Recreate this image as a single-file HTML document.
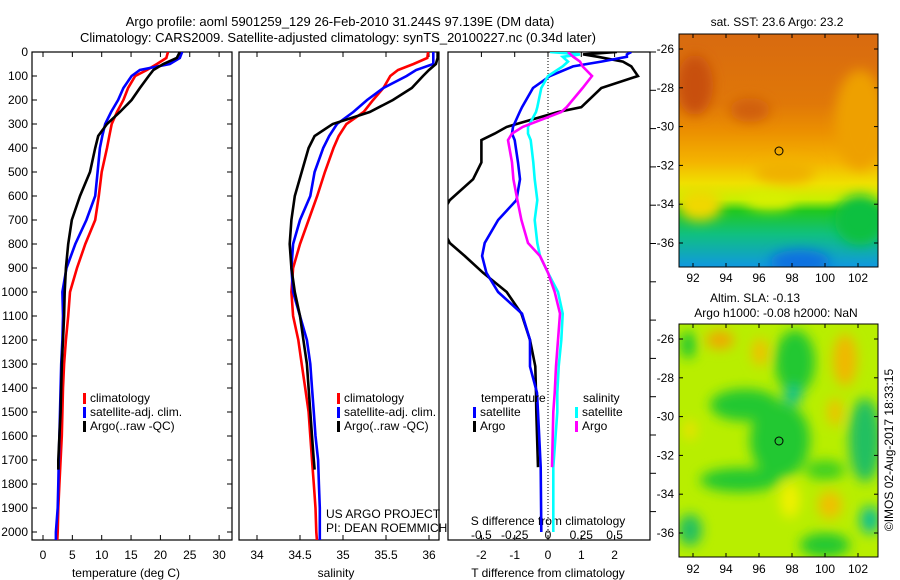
<!DOCTYPE html>
<html><head><meta charset="utf-8"><style>
body{margin:0;background:#fff;}
svg{display:block;font-family:"Liberation Sans",sans-serif;}
text{font-size:12px;fill:#000;}
</style></head><body>
<svg id="c" width="900" height="580" viewBox="0 0 900 580" xmlns="http://www.w3.org/2000/svg">
<defs>
<linearGradient id="sstg" x1="0" y1="0" x2="0" y2="1">
<stop offset="0" stop-color="#d86a10"/><stop offset="0.3" stop-color="#e07808"/><stop offset="0.42" stop-color="#ec9000"/>
<stop offset="0.55" stop-color="#f4b400"/><stop offset="0.64" stop-color="#f0e000"/><stop offset="0.71" stop-color="#c8f000"/>
<stop offset="0.76" stop-color="#20c820"/><stop offset="0.86" stop-color="#10c080"/><stop offset="1" stop-color="#1098e0"/></linearGradient>
<filter id="bl" x="-20%" y="-20%" width="140%" height="140%"><feGaussianBlur stdDeviation="6"/></filter>
<clipPath id="m1c"><rect x="679" y="34" width="199" height="233"/></clipPath>
<clipPath id="m2c"><rect x="679" y="324" width="199" height="233"/></clipPath>
<clipPath id="p1c"><rect x="32" y="52" width="200" height="488"/></clipPath>
<clipPath id="p2c"><rect x="239" y="52" width="200" height="488"/></clipPath>
<clipPath id="p3c"><rect x="448" y="52" width="202" height="488"/></clipPath>
</defs>
<text x="340" y="26" text-anchor="middle" style="font-size:13px">Argo profile: aoml 5901259_129 26-Feb-2010 31.244S 97.139E (DM data)</text>
<text x="338" y="42" text-anchor="middle" style="font-size:13px">Climatology: CARS2009. Satellite-adjusted climatology: synTS_20100227.nc (0.34d later)</text>

<g clip-path="url(#m1c)">
<rect x="679" y="34" width="199" height="233" fill="url(#sstg)"/>
<g filter="url(#bl)">
<ellipse cx="695" cy="85" rx="18" ry="30" fill="#c85010"/>
<ellipse cx="750" cy="110" rx="20" ry="12" fill="#d05e10"/>
<ellipse cx="860" cy="120" rx="25" ry="50" fill="#eea000"/>
<ellipse cx="700" cy="205" rx="22" ry="16" fill="#f0d800"/>
<ellipse cx="770" cy="200" rx="25" ry="10" fill="#d8f000"/>
<ellipse cx="785" cy="172" rx="30" ry="12" fill="#f0b000"/>
<ellipse cx="860" cy="220" rx="25" ry="25" fill="#10c040"/>
<ellipse cx="800" cy="262" rx="30" ry="12" fill="#1070e0"/>
</g>
</g>
<rect x="679" y="34" width="199" height="233" fill="none" stroke="#000"/>
<circle cx="779" cy="151" r="4" fill="none" stroke="#000"/>
<text x="777" y="26" text-anchor="middle">sat. SST: 23.6 Argo: 23.2</text>

<g clip-path="url(#m2c)">
<rect x="679" y="324" width="199" height="233" fill="#b8ee00"/>
<g filter="url(#bl)">
<ellipse cx="720" cy="340" rx="14" ry="9" fill="#f0a800"/>
<ellipse cx="795" cy="362" rx="20" ry="32" fill="#20c830"/>
<ellipse cx="793" cy="395" rx="9" ry="9" fill="#10c090"/>
<ellipse cx="760" cy="352" rx="8" ry="14" fill="#f0c000"/>
<ellipse cx="845" cy="360" rx="12" ry="26" fill="#f0b800"/>
<ellipse cx="688" cy="345" rx="8" ry="14" fill="#20c830"/>
<ellipse cx="745" cy="405" rx="35" ry="16" fill="#20c830"/>
<ellipse cx="780" cy="440" rx="30" ry="38" fill="#20c830"/>
<ellipse cx="865" cy="440" rx="16" ry="42" fill="#20c060"/>
<ellipse cx="835" cy="412" rx="7" ry="14" fill="#f0c000"/>
<ellipse cx="690" cy="430" rx="6" ry="10" fill="#f0e000"/>
<ellipse cx="740" cy="480" rx="40" ry="12" fill="#20c830"/>
<ellipse cx="825" cy="470" rx="20" ry="10" fill="#40d020"/>
<ellipse cx="690" cy="530" rx="12" ry="16" fill="#20c060"/>
<ellipse cx="830" cy="505" rx="12" ry="14" fill="#f0c000"/>
<ellipse cx="870" cy="520" rx="10" ry="14" fill="#10c090"/>
<ellipse cx="825" cy="545" rx="25" ry="12" fill="#20c830"/>
<ellipse cx="790" cy="500" rx="10" ry="18" fill="#f0f000"/>
</g>
</g>
<rect x="679" y="324" width="199" height="233" fill="none" stroke="#000"/>
<circle cx="779" cy="441" r="4" fill="none" stroke="#000"/>
<text x="755" y="302" text-anchor="middle">Altim. SLA: -0.13</text>
<text x="776" y="317" text-anchor="middle">Argo h1000: -0.08 h2000: NaN</text>
<text transform="translate(893,450) rotate(-90)" text-anchor="middle">©IMOS 02-Aug-2017 18:33:15</text>
<g id="axes"></g>
</svg>
<script>
const depths=[0,25,50,75,100,150,200,250,300,350,400,500,600,700,800,900,1000,1100,1200,1300,1400,1500,1600,1700,1800,1900,2000,2050];
const tClim=[21.3,21.0,19.4,17.7,15.7,14.5,13.7,12.6,11.7,11.3,10.9,10.0,9.5,8.9,7.2,5.8,4.6,4.3,3.9,3.6,3.4,3.3,3.2,3.0,2.8,2.6,2.5,2.4];
const tSat=[23.7,23.3,21.6,16.5,15.1,13.7,12.8,11.6,10.6,10.1,9.7,9.3,8.9,7.4,5.5,4.0,3.3,3.4,3.3,3.1,3.0,2.9,2.8,2.7,2.6,2.5,2.2,2.2];
const argoDepths=[0,25,50,75,100,150,200,250,300,350,400,500,600,700,800,900,1000,1100,1200,1300,1400,1500,1600,1700,1740];
const tArgo=[23.3,22.8,20.5,18.8,18.0,16.5,15.1,13.1,10.9,9.4,8.9,8.0,6.3,4.9,4.3,3.9,3.7,3.6,3.4,3.2,3.1,3.0,2.8,2.6,2.6];
const sClim=[35.99,35.98,35.82,35.64,35.55,35.47,35.35,35.24,35.04,34.95,34.89,34.79,34.70,34.60,34.50,34.42,34.40,34.42,34.48,34.52,34.56,34.60,34.62,34.64,34.66,34.68,34.69,34.70];
const sSat=[36.05,36.05,36.05,35.85,35.74,35.47,35.28,35.12,34.93,34.84,34.77,34.67,34.62,34.50,34.42,34.40,34.42,34.50,34.58,34.62,34.64,34.66,34.68,34.71,34.72,34.73,34.73,34.73];
const sArgo=[36.10,36.10,36.08,36.0,35.93,35.80,35.58,35.31,34.88,34.67,34.60,34.52,34.44,34.40,34.38,34.40,34.44,34.50,34.54,34.58,34.60,34.62,34.64,34.66,34.67];
const dDepths=[0,10,20,40,60,100,150,230,250,312,340,367,460,530,617,700,796,850,920,1000,1090,1200,1310,1420,1500,1730,2000];
const dTArgo=[2.07,1.05,1.5,2.25,2.5,2.7,1.6,1.0,0.3,-1.24,-1.6,-2.0,-2.0,-2.25,-2.95,-3.3,-2.95,-2.5,-1.95,-1.24,-0.8,-0.54,-0.38,-0.36,-0.35,-0.3,null];
const dTSat=[2.5,2.37,2.37,1.6,0.75,0.06,-0.45,-0.78,-0.85,-1.05,-1.08,-1.0,-0.9,-0.84,-0.95,-1.5,-1.9,-1.98,-1.85,-1.5,-0.78,-0.54,-0.54,-0.33,-0.3,-0.22,-0.2];
const dSSat=[0.015,0.24,0.11,0.15,0.11,0.0,-0.05,-0.08,-0.09,-0.15,-0.15,-0.13,-0.11,-0.1,-0.08,-0.1,-0.08,-0.06,0.0,0.075,0.11,0.1,0.08,0.07,0.07,0.04,0.04];
const dSArgo=[0.15,0.17,0.19,0.24,0.26,0.33,0.26,0.14,0.1,-0.19,-0.27,-0.3,-0.27,-0.26,-0.23,-0.2,-0.15,-0.06,0.0,0.05,0.09,0.075,0.06,0.05,0.04,0.03,null];
const depthTicks=[0,100,200,300,400,500,600,700,800,900,1000,1100,1200,1300,1400,1500,1600,1700,1800,1900,2000];
const tTicks=[0,5,10,15,20,25,30];
const sTicks=[34,34.5,35,35.5,36];
const dTTicks=[-2,-1,0,1,2];
const dSTicks=[-0.5,-0.25,0,0.25,0.5];
const lonTicks=[92,94,96,98,100,102];
const latTicks=[-26,-28,-30,-32,-34,-36];

const NS='http://www.w3.org/2000/svg';
const root=document.getElementById('axes');
function mk(tag,attrs,parent){const e=document.createElementNS(NS,tag);for(const k in attrs)e.setAttribute(k,attrs[k]);(parent||root).appendChild(e);return e;}
const yD=d=>52+0.24*d;
const xT=t=>43+5.87*t;
const xS=s=>257+86*(s-34);
const xDT=d=>548+33.3*d;
const xDS=d=>548+133.2*d;
const xLon=l=>693+16.5*(l-92);
const yLat1=a=>49+19.4*(-26-a);
const yLat2=a=>339+19.4*(-26-a);

function line(ds,vs,fx,color,clip,name){
  let p='',pen=false;
  for(let i=0;i<ds.length;i++){if(vs[i]===null){pen=false;continue;}p+=(pen?'L':'M')+fx(vs[i]).toFixed(1)+','+yD(ds[i]).toFixed(1);pen=true;}
  const e=mk('path',{d:p,fill:'none',stroke:color,'stroke-width':2.6,'clip-path':'url(#'+clip+')'});
  
  
}
function frame(x,w,name){const e=mk('rect',{x:x,y:52,width:w,height:488,fill:'none',stroke:'#000','stroke-width':1.2});
  
  }
function txt(x,y,s,anchor,name){const e=mk('text',{x:x,y:y,'text-anchor':anchor||'start'});e.textContent=s;
  
  return e;}

frame(32,200,'temperature-panel-frame');
depthTicks.forEach(d=>{const y=yD(d);mk('line',{x1:32,y1:y,x2:37,y2:y,stroke:'#000'});mk('line',{x1:227,y1:y,x2:232,y2:y,stroke:'#000'});txt(28,y+4,String(d),'end','depth-tick-label');});
tTicks.forEach(t=>{const x=xT(t);mk('line',{x1:x,y1:540,x2:x,y2:535,stroke:'#000'});mk('line',{x1:x,y1:52,x2:x,y2:57,stroke:'#000'});txt(x,559,String(t),'middle','temperature-tick-label');});
txt(126,577,'temperature (deg C)','middle','temperature-axis-title');
line(depths,tClim,xT,'#ff0000','p1c','temperature-climatology-line');
line(depths,tSat,xT,'#0000ff','p1c','temperature-satellite-line');
line(argoDepths,tArgo,xT,'#000000','p1c','temperature-argo-line');

frame(239,200,'salinity-panel-frame');
sTicks.forEach(s=>{const x=xS(s);mk('line',{x1:x,y1:540,x2:x,y2:535,stroke:'#000'});mk('line',{x1:x,y1:52,x2:x,y2:57,stroke:'#000'});txt(x,559,String(s),'middle','salinity-tick-label');});
txt(336,577,'salinity','middle','salinity-axis-title');
line(depths,sClim,xS,'#ff0000','p2c','salinity-climatology-line');
line(depths,sSat,xS,'#0000ff','p2c','salinity-satellite-line');
line(argoDepths,sArgo,xS,'#000000','p2c','salinity-argo-line');

frame(448,202,'difference-panel-frame');
mk('line',{x1:548,y1:52,x2:548,y2:540,stroke:'#000','stroke-dasharray':'1,2'});
for(let k=0;k<13;k++){const y=52+38.3*k;mk('line',{x1:650,y1:y,x2:656,y2:y,stroke:'#000'});}
dTTicks.forEach(t=>{const x=xDT(t);mk('line',{x1:x,y1:540,x2:x,y2:535,stroke:'#000'});mk('line',{x1:x,y1:52,x2:x,y2:57,stroke:'#000'});txt(x,559,String(t),'middle','t-diff-tick-label');});
dSTicks.forEach(t=>{txt(xDS(t),539,String(t),'middle','s-diff-tick-label');});
txt(548,525,'S difference from climatology','middle','s-diff-axis-title');
txt(548,577,'T difference from climatology','middle','t-diff-axis-title');
line(dDepths,dTArgo,xDT,'#000000','p3c','t-diff-argo-line');
line(dDepths,dTSat,xDT,'#0000ff','p3c','t-diff-satellite-line');
line(dDepths,dSSat,xDS,'#00ffff','p3c','s-diff-satellite-line');
line(dDepths,dSArgo,xDS,'#ff00ff','p3c','s-diff-argo-line');

function leg(x,y,color,label,name){const r=mk('rect',{x:x,y:y-9,width:3,height:11,fill:color});
  
  
  txt(x+7,y,label,'start',name);}
leg(83,402,'#ff0000','climatology','legend-temp-climatology');
leg(83,416,'#0000ff','satellite-adj. clim.','legend-temp-satellite');
leg(83,430,'#000000','Argo(..raw -QC)','legend-temp-argo');
leg(337,402,'#ff0000','climatology','legend-sal-climatology');
leg(337,416,'#0000ff','satellite-adj. clim.','legend-sal-satellite');
leg(337,430,'#000000','Argo(..raw -QC)','legend-sal-argo');
txt(481,402,'temperature','start','legend-temperature-heading');
txt(583,402,'salinity','start','legend-salinity-heading');
leg(473,416,'#0000ff','satellite','legend-tdiff-satellite');
leg(473,430,'#000000','Argo','legend-tdiff-argo');
leg(575,416,'#00ffff','satellite','legend-sdiff-satellite');
leg(575,430,'#ff00ff','Argo','legend-sdiff-argo');
txt(326,518,'US ARGO PROJECT','start','project-credit');
txt(326,532,'PI: DEAN ROEMMICH','start','pi-credit');

[[yLat1,34,267,282],[yLat2,324,557,573]].forEach(([fy,top,bot,ly])=>{
  latTicks.forEach(a=>{const y=fy(a);mk('line',{x1:679,y1:y,x2:683,y2:y,stroke:'#000'});mk('line',{x1:874,y1:y,x2:878,y2:y,stroke:'#000'});txt(674,y+4,String(a),'end','map-lat-tick-label');});
  lonTicks.forEach(l=>{const x=xLon(l);mk('line',{x1:x,y1:top,x2:x,y2:top+4,stroke:'#000'});mk('line',{x1:x,y1:bot,x2:x,y2:bot-4,stroke:'#000'});txt(x,ly,String(l),'middle','map-lon-tick-label');});
});
</script>
</body></html>
